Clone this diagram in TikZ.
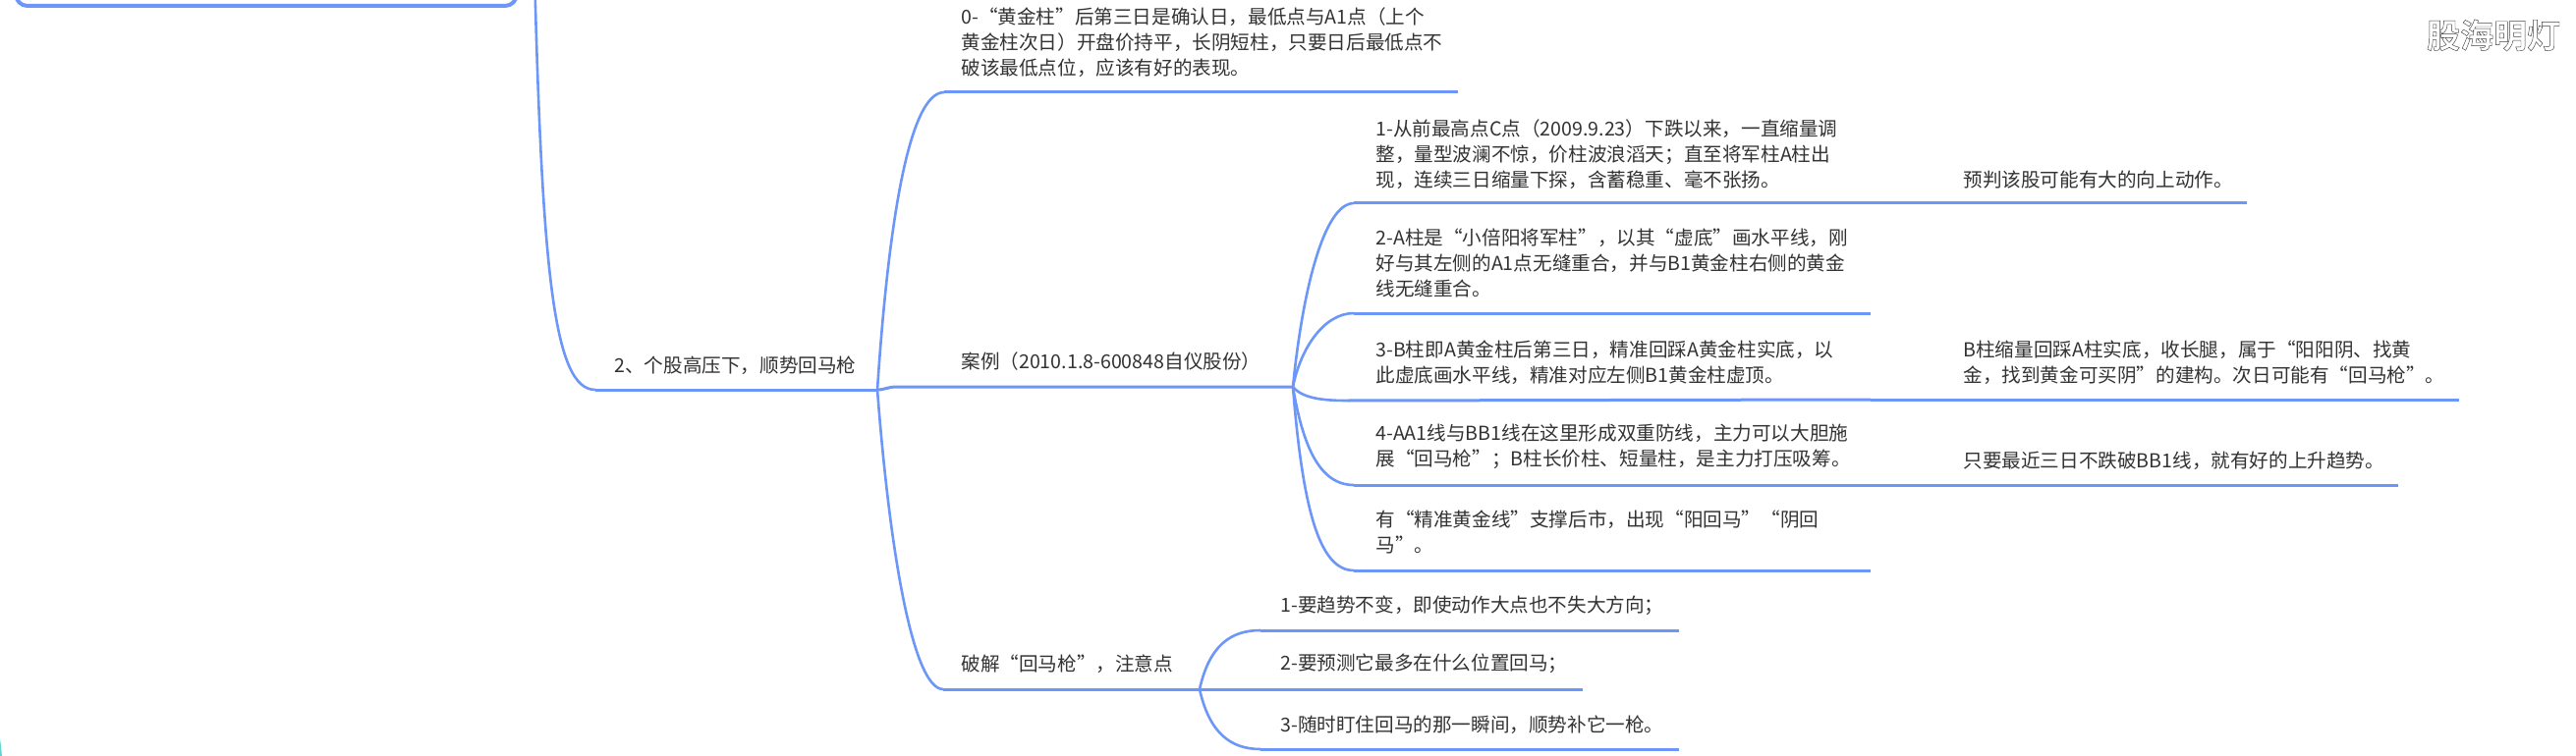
\documentclass[tikz,border=0pt]{standalone}
\usepackage{fontspec}
\usepackage{tikz}
\setmainfont{Noto Sans CJK SC}
\newfontfamily\markfont[BoldFont={Noto Sans CJK SC Bold}, RawFeature={embolden=1.3}]{Noto Sans CJK SC Bold}
\definecolor{MapBlue}{HTML}{6C96F8}
\definecolor{MapText}{HTML}{333333}
\definecolor{MapTeal}{HTML}{63D3D3}
\tikzset{
    maptext/.style={anchor=west, inner sep=0pt, align=left, text=MapText,
        font=\fontsize{9.8}{12.9}\selectfont},
    branchline/.style={draw=MapBlue, line width=1.3pt},
    baseline/.style={draw=MapBlue, line width=1.5pt}
}

\begin{document}
\begin{tikzpicture}[x=0.5pt, y=-0.5pt]

    % Background
    \fill[white] (0,0) rectangle (2622,770);
    \useasboundingbox (0,0) rectangle (2622,770);

    % Cut-off parent box
    \begin{scope}
        \clip (0,0) rectangle (2622,770);
        \draw[MapBlue, line width=2pt, rounded corners=6pt] (16,-40) rectangle (526,6);
        \fill[MapTeal] (0,752) -- (1,760) -- (2,770) -- (0,770) -- cycle;
        \coordinate (stemTop) at (544,-30);
        \coordinate (kaoStart) at (606,397);
        \coordinate (kaoEnd) at (893,397);
        \draw[branchline] (stemTop) .. controls +(8,310) and +(-42,0) .. (kaoStart);
    \end{scope}

    % Level 1
    \node[maptext] (kao) at (625,372) {2、个股高压下，顺势回马枪};
    \draw[baseline] (kaoStart) -- (kaoEnd);

    % Level 2
    \coordinate (zeroStart) at (961,94);
    \coordinate (zeroEnd) at (1484,94);
    \coordinate (caseStart) at (913,394);
    \coordinate (caseEnd) at (1316,394);
    \coordinate (crackStart) at (960,702);
    \coordinate (crackEnd) at (1221,702);
    \node[maptext] (zero) at (978,43) {0-“黄金柱”后第三日是确认日，最低点与A1点（上个\\黄金柱次日）开盘价持平，长阴短柱，只要日后最低点不\\破该最低点位，应该有好的表现。};
    \node[maptext] (case) at (978,368) {案例（2010.1.8-600848自仪股份）};
    \node[maptext] (crack) at (978,676) {破解“回马枪”，注意点};
    \draw[baseline] (zeroStart) -- (zeroEnd);
    \draw[baseline] (kaoEnd) .. controls +(8,0) and +(-10,0) .. (caseStart) -- (caseEnd);
    \draw[baseline] (crackStart) -- (crackEnd);
    \draw[branchline] (kaoEnd) .. controls +(11,-167) and +(-36,0) .. (zeroStart);
    \draw[branchline] (kaoEnd) .. controls +(13,170) and +(-30,0) .. (crackStart);

    % Case items
    \foreach \n/\x/\y in {one/1378/207, two/1378/319, three/1372/408, four/1378/494, five/1378/581}
        \coordinate (\n Start) at (\x,\y);
    \foreach \n/\y in {one/207, two/319, three/407, four/494, five/581}
        \coordinate (\n End) at (1904,\y);
    \node[maptext] (one) at (1400,157) {1-从前最高点C点（2009.9.23）下跌以来，一直缩量调\\整，量型波澜不惊，价柱波浪滔天；直至将军柱A柱出\\现，连续三日缩量下探，含蓄稳重、毫不张扬。};
    \node[maptext] (two) at (1400,268) {2-A柱是“小倍阳将军柱”，以其“虚底”画水平线，刚\\好与其左侧的A1点无缝重合，并与B1黄金柱右侧的黄金\\线无缝重合。};
    \node[maptext] (three) at (1400,369) {3-B柱即A黄金柱后第三日，精准回踩A黄金柱实底，以\\此虚底画水平线，精准对应左侧B1黄金柱虚顶。};
    \node[maptext] (four) at (1400,455) {4-AA1线与BB1线在这里形成双重防线，主力可以大胆施\\展“回马枪”；B柱长价柱、短量柱，是主力打压吸筹。};
    \node[maptext] (five) at (1400,542) {有“精准黄金线”支撑后市，出现“阳回马”“阴回\\马”。};
    \foreach \n in {one, two, three, four, five}
        \draw[baseline] (\n Start) -- (\n End);
    \draw[branchline] (caseEnd) .. controls +(10,-100) and +(-30,0) .. (oneStart);
    \draw[branchline] (caseEnd) .. controls +(8,-40) and +(-30,0) .. (twoStart);
    \draw[branchline] (caseEnd) .. controls +(10,12) and +(-25,0) .. (threeStart);
    \draw[branchline] (caseEnd) .. controls +(10,60) and +(-35,0) .. (fourStart);
    \draw[branchline] (caseEnd) .. controls +(10,125) and +(-35,0) .. (fiveStart);

    % Case notes
    \coordinate (noteOneEnd) at (2287,207);
    \coordinate (noteThreeEnd) at (2503,407);
    \coordinate (noteFourEnd) at (2441,494);
    \node[maptext] (noteOne) at (1998,183) {预判该股可能有大的向上动作。};
    \node[maptext] (noteThree) at (1998,369) {B柱缩量回踩A柱实底，收长腿，属于“阳阳阴、找黄\\金，找到黄金可买阴”的建构。次日可能有“回马枪”。};
    \node[maptext] (noteFour) at (1998,469) {只要最近三日不跌破BB1线，就有好的上升趋势。};
    \draw[baseline] (oneEnd) -- (noteOneEnd);
    \draw[baseline] (threeEnd) -- (noteThreeEnd);
    \draw[baseline] (fourEnd) -- (noteFourEnd);

    % Crack items
    \coordinate (hintOneStart) at (1283,642);
    \coordinate (hintOneEnd) at (1709,642);
    \coordinate (hintTwoEnd) at (1611,702);
    \coordinate (hintThreeStart) at (1283,763);
    \coordinate (hintThreeEnd) at (1709,763);
    \node[maptext] (hintOne) at (1303,617) {1-要趋势不变，即使动作大点也不失大方向；};
    \node[maptext] (hintTwo) at (1303,676) {2-要预测它最多在什么位置回马；};
    \node[maptext] (hintThree) at (1303,738) {3-随时盯住回马的那一瞬间，顺势补它一枪。};
    \draw[baseline] (hintOneStart) -- (hintOneEnd);
    \draw[baseline] (crackEnd) -- (hintTwoEnd);
    \draw[baseline] (hintThreeStart) -- (hintThreeEnd);
    \draw[branchline] (crackEnd) .. controls +(10,-45) and +(-30,0) .. (hintOneStart);
    \draw[branchline] (crackEnd) .. controls +(10,45) and +(-30,0) .. (hintThreeStart);

    % Watermark
    \node[anchor=center, inner sep=0pt] (mark) at (2538,36)
        {\special{pdf:bc [1] [0.25]}\fontsize{17}{18}\markfont 股海明灯\special{pdf:ec}};

\end{tikzpicture}
\end{document}
